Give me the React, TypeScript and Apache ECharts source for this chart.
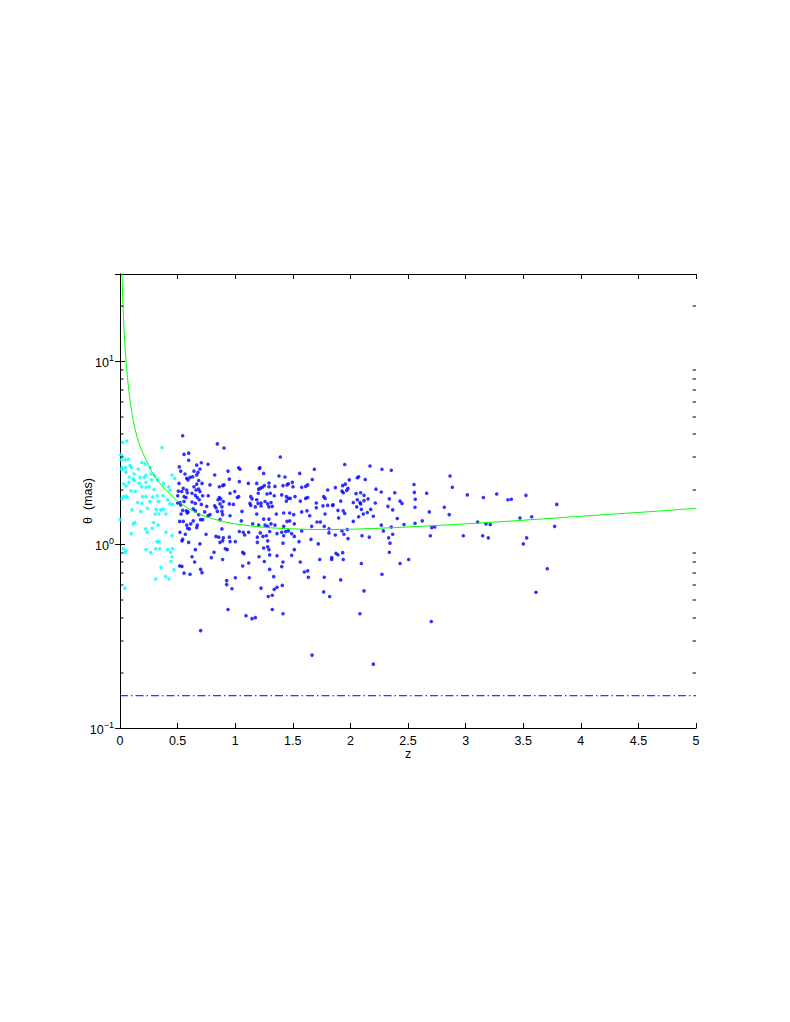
import React, { useEffect, useRef } from 'react';
import * as echarts from 'echarts';

// Low-redshift sample (cyan): [z, theta in mas]
const cyanPoints: number[][] = [
  [0.058,3.68],[0.023,3.62],[0.365,3.39],[0.006,3.11],[0.017,3.05],[0.011,2.91],[0.043,2.91],[0.072,2.93],
  [0.188,2.81],[0.217,2.76],[0.087,2.70],[0.017,2.64],[0.049,2.64],[0.015,2.57],[0.098,2.64],[0.159,2.59],
  [0.260,2.64],[0.052,2.48],[0.122,2.43],[0.226,2.40],[0.269,2.43],[0.301,2.38],[0.081,2.34],[0.115,2.29],
  [0.174,2.33],[0.211,2.33],[0.451,2.40],[0.475,2.30],[0.275,2.26],[0.327,2.26],[0.032,2.15],[0.078,2.19],
  [0.124,2.24],[0.226,2.19],[0.168,2.16],[0.052,2.09],[0.188,2.07],[0.226,2.06],[0.254,2.07],[0.376,2.16],
  [0.423,2.07],[0.295,2.00],[0.095,1.97],[0.133,1.95],[0.434,1.98],[0.029,1.83],[0.052,1.84],[0.063,1.81],
  [0.017,1.78],[0.197,1.83],[0.226,1.83],[0.284,1.82],[0.324,1.85],[0.373,1.85],[0.414,1.76],[0.457,1.66],
  [0.434,1.67],[0.260,1.72],[0.154,1.70],[0.191,1.68],[0.332,1.72],[0.237,1.58],[0.313,1.56],[0.353,1.55],
  [0.376,1.56],[0.180,1.52],[0.104,1.55],[0.339,1.47],[0.306,1.47],[0.399,1.47],[0.003,1.37],[0.130,1.32],
  [0.115,1.30],[0.293,1.32],[0.332,1.28],[0.223,1.22],[0.280,1.23],[0.237,1.17],[0.098,1.15],[0.399,1.17],
  [0.451,1.12],[0.339,1.04],[0.321,1.04],[0.029,0.95],[0.052,0.93],[0.046,0.905],[0.226,0.94],[0.266,0.905],
  [0.310,0.95],[0.345,0.95],[0.414,0.94],[0.457,0.95],[0.440,0.91],[0.451,0.86],[0.443,0.81],[0.356,0.75],
  [0.469,0.73],[0.310,0.65],[0.397,0.67],[0.425,0.65],[0.043,0.58]
];

// High-redshift sample (blue): [z, theta in mas]
const bluePoints: number[][] = [
  [0.544,3.93],[0.556,3.11],[0.596,3.16],[0.596,2.89],[0.515,2.66],[0.527,2.52],[0.564,2.43],[0.579,2.30],
  [0.590,2.26],[0.512,2.16],[0.549,2.03],[0.506,1.96],[0.536,1.95],[0.556,1.83],[0.573,1.81],[0.501,1.85],
  [0.501,1.69],[0.527,1.65],[0.576,1.53],[0.590,1.51],[0.530,1.47],[0.518,1.34],[0.549,1.34],[0.579,1.28],
  [0.588,1.23],[0.567,1.14],[0.544,1.07],[0.596,1.03],[0.518,0.766],[0.538,0.762],[0.556,0.70],
  [0.845,3.55],[0.903,3.37],[0.706,2.80],[0.764,2.75],[0.666,2.72],[0.642,2.52],[0.694,2.59],[0.608,2.33],
  [0.631,2.35],[0.666,2.40],[0.677,2.48],[0.822,2.40],[0.938,2.52],[1.030,2.63],[1.042,2.58],[1.209,2.61],
  [0.949,2.28],[0.683,2.24],[0.712,2.16],[0.666,2.14],[0.642,2.07],[0.781,2.12],[0.862,2.07],[0.891,2.10],
  [0.903,2.12],[1.036,2.21],[1.114,2.16],[1.187,2.16],[1.204,2.01],[0.579,1.99],[0.660,1.99],[0.683,2.01],
  [0.694,1.95],[0.625,1.91],[0.584,1.92],[0.766,1.85],[0.718,1.85],[0.654,1.86],[0.671,1.81],[0.688,1.76],
  [0.862,1.81],[0.851,1.76],[0.874,1.78],[0.955,1.91],[0.996,1.95],[1.018,1.81],[1.030,1.83],[1.135,1.83],
  [1.146,1.78],[1.187,1.76],[0.521,1.70],[0.556,1.72],[0.625,1.71],[0.654,1.68],[0.706,1.66],[0.753,1.62],
  [0.822,1.63],[0.833,1.59],[0.868,1.67],[0.885,1.61],[0.897,1.72],[0.949,1.67],[0.984,1.66],[1.128,1.68],
  [1.135,1.64],[1.175,1.61],[1.198,1.68],[0.544,1.54],[0.636,1.57],[0.654,1.53],[0.584,1.49],[0.683,1.46],
  [0.735,1.51],[0.764,1.44],[0.781,1.46],[0.845,1.52],[0.885,1.52],[0.891,1.46],[0.955,1.44],[1.059,1.52],
  [1.187,1.47],[0.636,1.35],[0.700,1.37],[0.718,1.37],[0.868,1.37],[1.053,1.35],[1.152,1.30],[0.614,1.30],
  [0.671,1.28],[0.666,1.24],[0.885,1.22],[1.204,1.28],[0.521,1.17],[0.602,1.22],[1.036,1.18],[1.070,1.17],
  [1.082,1.13],[1.117,1.17],[1.192,1.10],[0.747,1.14],[0.833,1.11],[0.857,1.10],[0.897,1.09],[0.891,1.05],
  [0.949,1.10],[0.538,1.05],[0.694,1.01],[0.955,1.04],[0.868,1.03],[1.001,1.04],[1.192,1.03],[0.914,0.95],
  [0.931,0.94],[0.654,0.94],[0.816,0.91],[1.065,0.91],[1.076,0.894],[0.625,0.86],[0.793,0.85],[0.891,0.83],
  [0.648,0.805],[1.065,0.765],[1.117,0.795],[0.700,0.734],[0.712,0.704],[0.608,0.69],[1.122,0.66],[1.001,0.66],
  [0.926,0.637],[0.926,0.606],[0.972,0.575],[0.938,0.443],[1.094,0.41],[1.146,0.395],[1.175,0.40],[0.700,0.34],
  [1.392,3.01],[1.215,2.63],[1.247,2.45],[1.687,2.58],[1.560,2.45],[1.380,2.37],[1.432,2.34],[1.669,2.27],
  [1.253,2.10],[1.235,2.06],[1.218,2.03],[1.293,2.17],[1.293,2.07],[1.345,2.08],[1.415,2.10],[1.450,2.12],
  [1.461,2.15],[1.496,2.19],[1.502,2.07],[1.577,2.06],[1.612,2.08],[1.629,2.12],[1.200,1.91],[1.276,1.89],
  [1.305,1.91],[1.404,1.87],[1.339,1.85],[1.444,1.83],[1.461,1.79],[1.444,1.73],[1.478,1.79],[1.519,1.83],
  [1.612,1.79],[1.629,1.81],[1.565,1.73],[1.259,1.72],[1.282,1.67],[1.311,1.70],[1.322,1.62],[1.293,1.61],
  [1.224,1.69],[1.224,1.63],[1.803,1.99],[1.768,1.83],[1.780,1.79],[1.704,1.69],[1.704,1.59],[1.762,1.63],
  [1.803,1.64],[1.849,1.65],[1.421,1.49],[1.473,1.49],[1.508,1.46],[1.623,1.53],[1.577,1.51],[1.357,1.47],
  [1.247,1.38],[1.293,1.38],[1.647,1.44],[1.780,1.47],[1.450,1.34],[1.473,1.35],[1.710,1.33],[1.739,1.33],
  [1.259,1.28],[1.311,1.30],[1.282,1.26],[1.345,1.28],[1.421,1.26],[1.513,1.30],[1.664,1.26],[1.773,1.26],
  [1.814,1.22],[1.814,1.16],[1.218,1.16],[1.299,1.18],[1.363,1.15],[1.404,1.17],[1.438,1.18],[1.461,1.19],
  [1.490,1.15],[1.513,1.11],[1.577,1.19],[1.241,1.11],[1.270,1.12],[1.421,1.12],[1.554,1.04],[1.658,1.07],
  [1.282,1.05],[1.415,1.02],[1.721,1.01],[1.247,0.96],[1.282,0.975],[1.293,0.94],[1.513,0.94],[1.299,0.88],
  [1.207,0.86],[1.363,0.87],[1.490,0.875],[1.734,0.83],[1.838,0.85],[1.838,0.83],[1.253,0.81],[1.415,0.805],
  [1.404,0.76],[1.565,0.805],[1.299,0.734],[1.600,0.71],[1.629,0.72],[1.635,0.664],[1.773,0.664],[1.334,0.67],
  [1.409,0.60],[1.363,0.586],[1.339,0.571],[1.224,0.58],[1.768,0.553],[1.820,0.522],[1.322,0.53],[1.287,0.522],
  [1.322,0.443],[1.415,0.42],[1.667,0.25],
  [1.951,2.74],[2.170,2.69],[2.274,2.58],[2.355,2.55],[2.060,2.32],[2.072,2.35],[2.129,2.27],[1.990,2.26],
  [1.956,2.14],[1.933,2.10],[1.869,2.05],[1.979,2.03],[1.968,1.98],[1.927,1.96],[1.938,1.92],[2.222,2.01],
  [2.268,1.94],[2.049,1.90],[2.089,1.92],[2.118,1.86],[2.385,1.92],[1.916,1.73],[2.060,1.76],[2.118,1.74],
  [2.153,1.78],[2.025,1.70],[2.083,1.70],[2.089,1.67],[2.216,1.69],[2.338,1.78],[2.326,1.62],[2.431,1.73],
  [2.448,1.68],[1.846,1.64],[2.055,1.61],[2.095,1.56],[1.892,1.54],[1.938,1.53],[1.951,1.48],[2.176,1.56],
  [2.147,1.50],[2.112,1.47],[2.367,1.55],[2.072,1.42],[2.199,1.43],[1.898,1.40],[2.407,1.39],[2.025,1.34],
  [2.268,1.28],[2.465,1.29],[2.355,1.25],[1.927,1.19],[1.973,1.21],[2.286,1.19],[1.869,1.13],[1.944,1.14],
  [2.101,1.12],[2.164,1.10],[1.979,1.08],[2.367,1.14],[2.332,1.09],[2.344,1.02],[2.338,0.91],[1.875,0.897],
  [1.892,0.882],[1.933,0.905],[1.938,0.83],[2.095,0.79],[2.431,0.79],[2.506,0.83],[2.274,0.69],[1.916,0.643],
  [2.118,0.56],[2.083,0.42],[2.199,0.223],
  [2.865,2.37],[2.552,2.13],[2.885,2.06],[2.555,1.93],[2.662,1.91],[3.015,1.87],[3.270,1.89],[3.154,1.81],
  [2.563,1.77],[2.561,1.60],[2.815,1.60],[2.685,1.51],[2.858,1.46],[2.561,1.31],[2.624,1.35],[2.706,1.24],
  [2.732,1.25],[3.105,1.33],[3.177,1.30],[3.214,1.29],[2.694,1.12],[2.980,1.12],[3.148,1.12],[3.197,1.09],
  [2.702,0.381],
  [3.368,1.76],[3.397,1.77],[3.524,1.86],[3.791,1.66],[3.472,1.40],[3.574,1.42],[3.773,1.26],[3.530,1.09],
  [3.501,1.01],[3.709,0.74],[3.611,0.55]
];

// Model curve (green)
const curvePoints: number[][] = [
  [0.0175,30],[0.02,26.5],[0.025,21],[0.03,17.6],[0.035,15],[0.04,13.2],[0.05,10.5],[0.06,8.8],[0.07,7.6],
  [0.085,6.3],[0.1,5.4],[0.115,4.75],[0.13,4.3],[0.15,3.85],[0.17,3.5],[0.2,3.15],[0.23,2.88],[0.26,2.62],
  [0.3,2.36],[0.35,2.15],[0.4,1.98],[0.45,1.85],[0.5,1.73],[0.6,1.57],[0.7,1.46],[0.85,1.36],[1.0,1.30],
  [1.25,1.245],[1.5,1.22],[1.75,1.21],[2.0,1.215],[2.25,1.23],[2.5,1.25],[3.0,1.30],[3.5,1.36],[4.0,1.43],
  [4.5,1.50],[5.0,1.58]
];

// Resolution limit (dash-dot)
const limitValue = 0.15;
const limitLine: number[][] = [[0, limitValue], [5, limitValue]];

const minorTickValues: number[] = [0.2,0.3,0.4,0.5,0.6,0.7,0.8,0.9,2,3,4,5,6,7,8,9,20];

const X_MIN = 0, X_MAX = 5, X_STEP = 0.5;
const Y_MIN = 0.1, Y_MAX = 30;

const FONT = '"Liberation Sans", Arial, Helvetica, sans-serif';

export default function App() {
  const ref = useRef<HTMLDivElement>(null);
  useEffect(() => {
    if (!ref.current) return;
    const chart = echarts.init(ref.current, undefined, { renderer: 'svg' });
    const axisLine = { show: true, lineStyle: { color: '#000', width: 1 } };
    const yFmt = (v: number) => {
      const l = Math.log10(v);
      const e = Math.round(l);
      if (Math.abs(l - e) > 1e-6) return '';
      const es = e < 0 ? '\u2212' + -e : String(e);
      return `{b|10}{s|${es}}`;
    };
    chart.setOption({
      animation: false,
      backgroundColor: '#fff',
      textStyle: { fontFamily: FONT },
      grid: { left: 120, right: 94, top: 274, bottom: 294, show: false },
      xAxis: [
        {
          type: 'value', min: X_MIN, max: X_MAX, interval: X_STEP, position: 'bottom',
          name: 'z', nameLocation: 'middle', nameGap: 19, nameMoveOverlap: false,
          nameTextStyle: { fontSize: 12.5, color: '#000', fontFamily: FONT },
          axisLine, splitLine: { show: false },
          axisTick: { show: true, inside: true, length: 5, lineStyle: { color: '#000' } },
          axisLabel: { color: '#000', fontSize: 12.5, margin: 6, fontFamily: FONT },
        },
        {
          type: 'value', min: X_MIN, max: X_MAX, interval: X_STEP, position: 'top',
          axisLine, splitLine: { show: false },
          axisTick: { show: true, inside: true, length: 5, lineStyle: { color: '#000' } },
          axisLabel: { show: false },
        },
      ],
      yAxis: [
        {
          type: 'log', logBase: 10, min: Y_MIN, max: Y_MAX, interval: 1, position: 'left',
          name: '\u03b8  (mas)', nameLocation: 'middle', nameGap: 26, nameMoveOverlap: false,
          nameTextStyle: { fontSize: 12.5, color: '#000', fontFamily: FONT },
          axisLine, splitLine: { show: false },
          axisTick: { show: true, inside: true, length: 5, lineStyle: { color: '#000' } },
          axisLabel: {
            color: '#000', margin: 6, formatter: yFmt, showMaxLabel: false,
            rich: {
              b: { fontSize: 12.5, color: '#000', fontFamily: FONT, lineHeight: 16, verticalAlign: 'bottom' },
              s: { fontSize: 9, color: '#000', fontFamily: FONT, lineHeight: 9, verticalAlign: 'top' },
            },
          },
        },
        {
          type: 'log', logBase: 10, min: Y_MIN, max: Y_MAX, interval: 1, position: 'right',
          axisLine, splitLine: { show: false },
          axisTick: { show: true, inside: true, length: 5, lineStyle: { color: '#000' } },
          axisLabel: { show: false },
        },
      ],
      series: [
        {
          name: 'limit', type: 'line', data: limitLine, showSymbol: false, silent: true,
          lineStyle: { color: '#0000ff', width: 1, type: [8, 3, 1.5, 3] },
        },
        {
          name: 'low-z', type: 'scatter', data: cyanPoints, symbol: 'circle', symbolSize: 3.6,
          itemStyle: { color: '#00ffff' },
        },
        {
          name: 'high-z', type: 'scatter', data: bluePoints, symbol: 'circle', symbolSize: 3.6,
          itemStyle: { color: '#0000ff' },
        },
        {
          name: 'model', type: 'line', data: curvePoints, showSymbol: false, smooth: 0.3, silent: true,
          lineStyle: { color: '#00ff00', width: 1 }, clip: true, z: 5,
        },
        {
          name: 'minor-ticks', type: 'custom', silent: true, clip: false,
          data: minorTickValues.map((v) => [v]),
          encode: { y: 0 },
          renderItem: (params: any, api: any) => {
            const v = api.value(0);
            const left = api.coord([X_MIN, v]);
            const right = api.coord([X_MAX, v]);
            const y = Math.round(left[1]);
            return {
              type: 'group',
              children: [
                { type: 'rect', shape: { x: left[0], y: y - 0.5, width: 3.5, height: 1 }, style: { fill: '#000' } },
                { type: 'rect', shape: { x: right[0] - 3.5, y: y - 0.5, width: 3.5, height: 1 }, style: { fill: '#000' } },
              ],
            };
          },
          z: 20,
        },
      ],
    });
    return () => chart.dispose();
  }, []);
  return (
    <div
      ref={ref}
      style={{ position: 'absolute', left: 0, top: 0, width: 790, height: 1022, background: '#fff' }}
    />
  );
}
